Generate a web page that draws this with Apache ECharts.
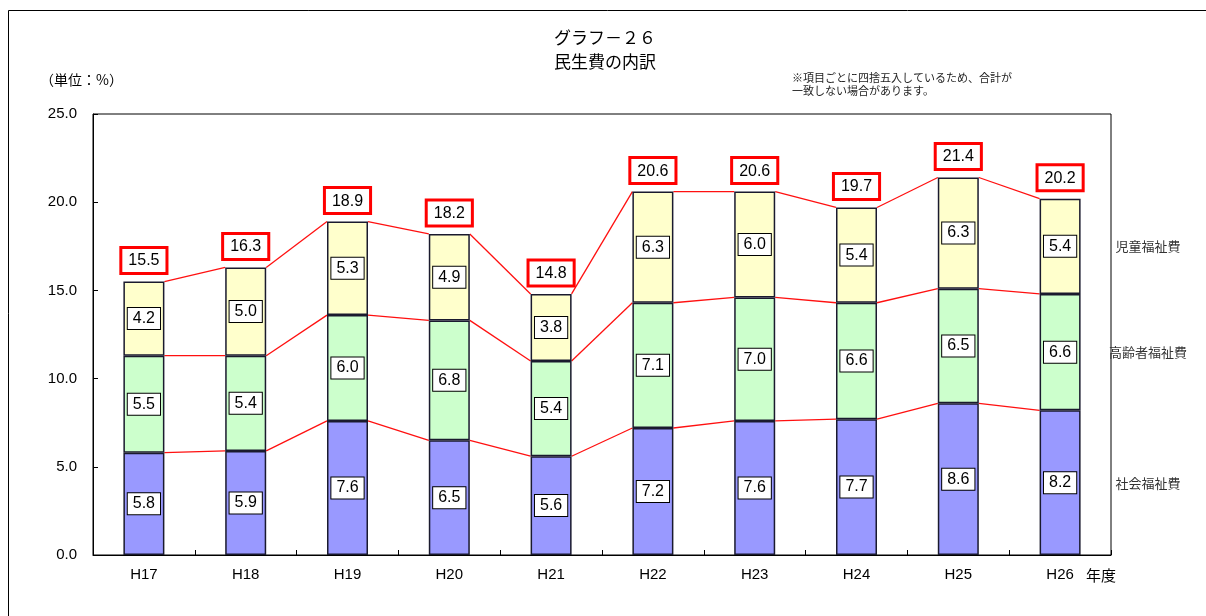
<!DOCTYPE html>
<html>
<head>
<meta charset="utf-8">
<script src="https://cdn.jsdelivr.net/npm/echarts@6/dist/echarts.min.js"></script>
<style>
  html, body { margin: 0; padding: 0; background: #fff; }
  #chart { width: 1206px; height: 616px; }
</style>
</head>
<body>
<div id="chart"></div>
<script>
const years = ['H17', 'H18', 'H19', 'H20', 'H21', 'H22', 'H23', 'H24', 'H25', 'H26']
const shakai = [5.8, 5.9, 7.6, 6.5, 5.6, 7.2, 7.6, 7.7, 8.6, 8.2]
const koureisha = [5.5, 5.4, 6.0, 6.8, 5.4, 7.1, 7.0, 6.6, 6.5, 6.6]
const jidou = [4.2, 5.0, 5.3, 4.9, 3.8, 6.3, 6.0, 5.4, 6.3, 5.4]
const totals = [15.5, 16.3, 18.9, 18.2, 14.8, 20.6, 20.6, 19.7, 21.4, 20.2]
const seriesNames = ['社会福祉費', '高齢者福祉費', '児童福祉費']
const yTicks = [0, 5, 10, 15, 20, 25]

const BAR_W = 41
const jpFont = '"Noto Sans CJK JP", sans-serif'
const numFont = '"Liberation Sans", Arial, sans-serif'

const level1 = shakai
const level2 = shakai.map((v, i) => v + koureisha[i])
const level3 = level2.map((v, i) => v + jidou[i])
const levels = [level1, level2, level3]

const chart = echarts.init(document.getElementById('chart'))

const segLabel = {
  show: true,
  position: 'inside',
  formatter: (p) => p.value.toFixed(1),
  color: '#000',
  fontFamily: numFont,
  fontSize: 16,
  backgroundColor: '#fff',
  borderColor: '#000',
  borderWidth: 1,
  padding: [3, 5, 2, 5]
}

const barSeries = (name, data, color) => ({
  name: name,
  type: 'bar',
  stack: 'total',
  barWidth: BAR_W,
  data: data,
  itemStyle: { color: color, borderColor: '#1a1a2e', borderWidth: 1.5 },
  label: segLabel,
  emphasis: { disabled: true }
})

const renderLinks = (params, api) => {
  const i = api.value(0)
  const children = []
  if (i < years.length - 1) {
    levels.forEach((lv) => {
      const a = api.coord([i, lv[i]])
      const b = api.coord([i + 1, lv[i + 1]])
      children.push({
        type: 'line',
        shape: { x1: a[0] + BAR_W / 2, y1: a[1], x2: b[0] - BAR_W / 2, y2: b[1] },
        style: { stroke: '#ff1010', lineWidth: 1.3 }
      })
    })
  } else {
    // series names beside the last bar
    const right = params.coordSys.x + params.coordSys.width
    const bounds = [0, level1[i], level2[i], level3[i]]
    seriesNames.forEach((name, k) => {
      const p = api.coord([i, (bounds[k] + bounds[k + 1]) / 2])
      children.push({
        type: 'text',
        x: right + 37,
        y: p[1],
        style: {
          text: name,
          align: 'center',
          verticalAlign: 'middle',
          fill: '#333',
          font: '13px ' + jpFont
        }
      })
    })
  }
  return { type: 'group', children: children }
}

chart.setOption({
  animation: false,
  grid: {
    left: 93,
    right: 95,
    top: 114,
    bottom: 61,
    show: true,
    borderColor: '#000',
    borderWidth: 1
  },
  xAxis: {
    type: 'category',
    data: years,
    axisLine: { lineStyle: { color: '#000', width: 1 } },
    axisTick: { show: true, inside: true, length: 5, lineStyle: { color: '#000' } },
    axisLabel: { color: '#000', fontSize: 15, fontFamily: numFont, margin: 12 }
  },
  yAxis: {
    type: 'value',
    min: yTicks[0],
    max: yTicks[yTicks.length - 1],
    interval: 5,
    splitLine: { show: false },
    axisLine: { show: true, lineStyle: { color: '#000', width: 1 } },
    axisTick: { show: true, inside: true, length: 5, lineStyle: { color: '#000' } },
    axisLabel: {
      color: '#000',
      fontSize: 15,
      fontFamily: numFont,
      margin: 16,
      formatter: (v) => v.toFixed(1)
    }
  },
  graphic: [
    {
      type: 'rect',
      shape: { x: 8.5, y: 10.5, width: 1300, height: 700 },
      style: { fill: null, stroke: '#000', lineWidth: 1 },
      silent: true
    },
    {
      type: 'text', x: 605, y: 38,
      style: { text: 'グラフ－２６', align: 'center', verticalAlign: 'middle', fill: '#000', font: '17px ' + jpFont }
    },
    {
      type: 'text', x: 605, y: 62,
      style: { text: '民生費の内訳', align: 'center', verticalAlign: 'middle', fill: '#000', font: '17px ' + jpFont }
    },
    {
      type: 'text', x: 40, y: 80,
      style: { text: '（単位：%）', verticalAlign: 'middle', fill: '#000', font: '14px ' + jpFont }
    },
    {
      type: 'text', x: 792, y: 71,
      style: {
        text: '※項目ごとに四捨五入しているため、合計が\n一致しない場合があります。',
        fill: '#222', font: '11px ' + jpFont, lineHeight: 13
      }
    },
    {
      type: 'text', x: 1086, y: 575,
      style: { text: '年度', verticalAlign: 'middle', fill: '#000', font: '15px ' + jpFont }
    }
  ],
  series: [
    barSeries(seriesNames[0], shakai, '#9999ff'),
    barSeries(seriesNames[1], koureisha, '#ccffcc'),
    barSeries(seriesNames[2], jidou, '#ffffcc'),
    {
      type: 'scatter',
      data: totals,
      symbolSize: 1,
      itemStyle: { color: 'rgba(0,0,0,0)', opacity: 1 },
      label: {
        show: true,
        position: 'top',
        distance: 9,
        formatter: (p) => p.value.toFixed(1),
        color: '#000',
        fontFamily: numFont,
        fontSize: 16,
        backgroundColor: '#fff',
        borderColor: '#ff0000',
        borderWidth: 3,
        padding: [4, 6, 3, 6]
      },
      emphasis: { disabled: true },
      z: 5
    },
    {
      type: 'custom',
      data: years.map((y, i) => [i, 0]),
      encode: { x: 0, y: 1 },
      renderItem: renderLinks,
      silent: true,
      z: 1
    }
  ]
})
</script>
</body>
</html>
